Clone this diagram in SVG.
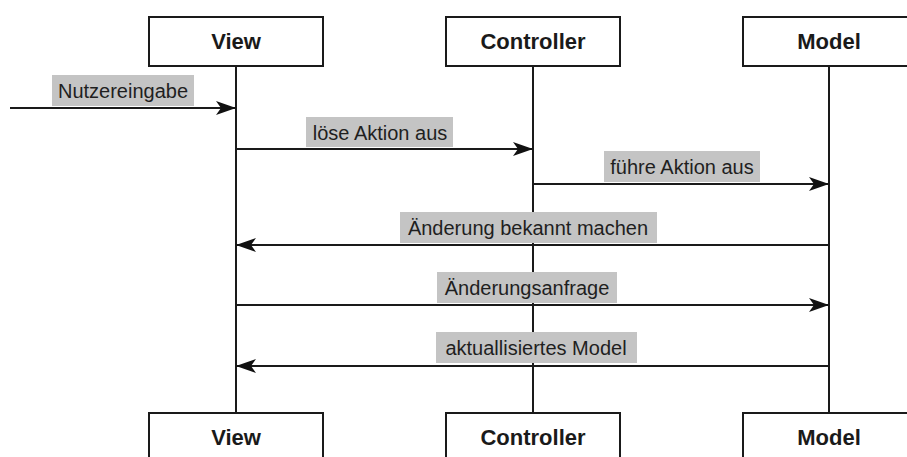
<svg xmlns="http://www.w3.org/2000/svg" width="907" height="457" viewBox="0 0 907 457">
  <style>
    .box { fill: #ffffff; stroke: #1a1a1a; stroke-width: 2; }
    .title { font-family: "Liberation Sans", Arial, sans-serif; font-weight: bold; font-size: 22px; fill: #1a1a1a; text-anchor: middle; }
    .life { stroke: #1a1a1a; stroke-width: 2; fill: none; }
    .msg { stroke: #1a1a1a; stroke-width: 2; fill: none; marker-end: url(#head); }
    .lblbg { fill: #c4c4c4; }
    .lbl { font-family: "Liberation Sans", Arial, sans-serif; font-size: 20px; fill: #1f1f1f; text-anchor: middle; }
  </style>
  <defs>
    <marker id="head" markerUnits="userSpaceOnUse" markerWidth="22" markerHeight="18" refX="20" refY="8" orient="auto">
      <path d="M0,1 L20,8 L0,15 L5,8 Z" fill="#111111"/>
    </marker>
  </defs>
  <rect width="907" height="457" fill="#ffffff"/>

  <!-- lifelines -->
  <g id="lifelines">
    <line class="life" x1="236" y1="66" x2="236" y2="413"/>
    <line class="life" x1="533" y1="66" x2="533" y2="413"/>
    <line class="life" x1="829" y1="66" x2="829" y2="413"/>
  </g>

  <!-- participants, top row -->
  <g id="view-top">
    <rect class="box" x="149" y="17" width="174" height="49"/>
    <text class="title" x="236" y="49">View</text>
  </g>
  <g id="controller-top">
    <rect class="box" x="446" y="17" width="174" height="49"/>
    <text class="title" x="533" y="49">Controller</text>
  </g>
  <g id="model-top">
    <rect class="box" x="743" y="17" width="174" height="49"/>
    <text class="title" x="829" y="49">Model</text>
  </g>

  <!-- participants, bottom row -->
  <g id="view-bottom">
    <rect class="box" x="149" y="413" width="174" height="49"/>
    <text class="title" x="236" y="445">View</text>
  </g>
  <g id="controller-bottom">
    <rect class="box" x="446" y="413" width="174" height="49"/>
    <text class="title" x="533" y="445">Controller</text>
  </g>
  <g id="model-bottom">
    <rect class="box" x="743" y="413" width="174" height="49"/>
    <text class="title" x="829" y="445">Model</text>
  </g>

  <!-- messages -->
  <g id="connectors">
    <rect class="lblbg" x="52" y="75" width="142" height="31"/>
    <text class="lbl" x="123" y="98">Nutzereingabe</text>
    <line class="msg" x1="10" y1="108" x2="236" y2="108"/>

    <rect class="lblbg" x="306" y="117" width="147" height="30"/>
    <text class="lbl" x="380" y="140">löse Aktion aus</text>
    <line class="msg" x1="236" y1="149" x2="533" y2="149"/>

    <rect class="lblbg" x="604" y="151" width="156" height="31"/>
    <text class="lbl" x="682" y="174">führe Aktion aus</text>
    <line class="msg" x1="533" y1="184" x2="829" y2="184"/>

    <rect class="lblbg" x="400" y="212" width="257" height="31"/>
    <text class="lbl" x="528" y="235">Änderung bekannt machen</text>
    <line class="msg" x1="829" y1="245" x2="236" y2="245"/>

    <rect class="lblbg" x="437" y="272" width="180" height="31"/>
    <text class="lbl" x="527" y="295">Änderungsanfrage</text>
    <line class="msg" x1="236" y1="305" x2="829" y2="305"/>

    <rect class="lblbg" x="436" y="332" width="201" height="31"/>
    <text class="lbl" x="536" y="355">aktuallisiertes Model</text>
    <line class="msg" x1="829" y1="366" x2="236" y2="366"/>
  </g>
</svg>
